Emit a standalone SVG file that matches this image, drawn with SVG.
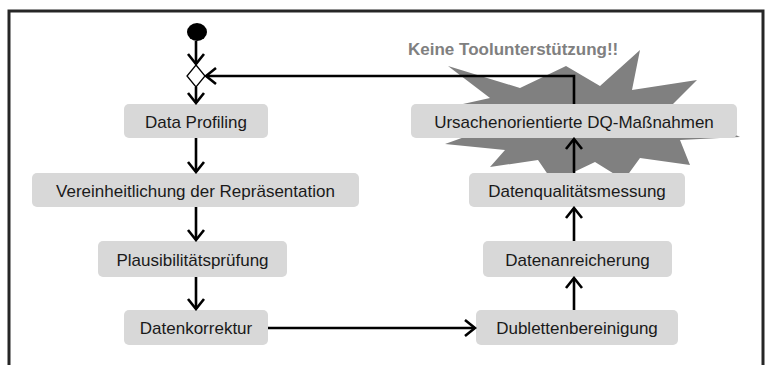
<svg xmlns="http://www.w3.org/2000/svg" width="767" height="365" viewBox="0 0 767 365">
<style>
.box{fill:#d8d8d8;stroke:none}
.lbl{font-family:"Liberation Sans",Arial,sans-serif;font-size:17px;fill:#1a1a1a;text-anchor:middle}
.con{fill:none;stroke:#000;stroke-width:2.6}
</style>
<defs>
<marker id="arr" viewBox="-13 -10 15 20" refX="0" refY="0" markerWidth="15" markerHeight="20" markerUnits="userSpaceOnUse" orient="auto">
<path d="M-10,-8 L0,0 L-10,8" fill="none" stroke="#000" stroke-width="2.6"/>
</marker>
</defs>
<rect width="767" height="365" fill="#fff"/>
<path d="M9,370 V11 H763 V370" fill="none" stroke="#262626" stroke-width="3"/>
<g id="burst">
<polygon fill="#808080" points="448,66 520,88 566,66 600,86 640,50 632,90 697,80 672,105 740,137 680,140 690,165 640,158 624,180 595,162 553,182 538,160 490,167 505,150 445,144 470,135 418,114 490,98"/>
<text x="408" y="55" font-family="Liberation Sans,Arial,sans-serif" font-size="17" font-weight="bold" fill="#808080">Keine Toolunterstützung!!</text>
</g>
<g id="start"><ellipse cx="197" cy="32" rx="10" ry="9" fill="#000"/></g>
<g id="decision"><polygon points="196,65 205,76 196,87 187,76" fill="#fff" stroke="#000" stroke-width="1.3"/></g>
<g id="n1"><rect class="box" x="124" y="104" width="144" height="34" rx="5"/><text class="lbl" x="196" y="128">Data Profiling</text></g>
<g id="n2"><rect class="box" x="32" y="173" width="327" height="34" rx="5"/><text class="lbl" x="195.5" y="197">Vereinheitlichung der Repräsentation</text></g>
<g id="n3"><rect class="box" x="98" y="241" width="189" height="36" rx="5"/><text class="lbl" x="192.5" y="266">Plausibilitätsprüfung</text></g>
<g id="n4"><rect class="box" x="124" y="310" width="144" height="35" rx="5"/><text class="lbl" x="196" y="334">Datenkorrektur</text></g>
<g id="n5"><rect class="box" x="476" y="310" width="202" height="35" rx="5"/><text class="lbl" x="577" y="334">Dublettenbereinigung</text></g>
<g id="n6"><rect class="box" x="483" y="241" width="189" height="36" rx="5"/><text class="lbl" x="577.5" y="266">Datenanreicherung</text></g>
<g id="n7"><rect class="box" x="469" y="173" width="216" height="34" rx="5"/><text class="lbl" x="577" y="197">Datenqualitätsmessung</text></g>
<g id="n8"><rect class="box" x="411" y="104" width="326" height="34" rx="5"/><text class="lbl" x="574" y="128">Ursachenorientierte DQ-Maßnahmen</text></g>
<g id="connectors">
<line class="con" x1="196" y1="41" x2="196" y2="64" marker-end="url(#arr)"/>
<line class="con" x1="196" y1="87" x2="196" y2="103" marker-end="url(#arr)"/>
<line class="con" x1="196" y1="138" x2="196" y2="172" marker-end="url(#arr)"/>
<line class="con" x1="196" y1="207" x2="196" y2="240" marker-end="url(#arr)"/>
<line class="con" x1="196" y1="277" x2="196" y2="309" marker-end="url(#arr)"/>
<line class="con" x1="268" y1="328" x2="475" y2="328" marker-end="url(#arr)"/>
<line class="con" x1="574" y1="310" x2="574" y2="278" marker-end="url(#arr)"/>
<line class="con" x1="574" y1="241" x2="574" y2="208" marker-end="url(#arr)"/>
<line class="con" x1="574" y1="173" x2="574" y2="139" marker-end="url(#arr)"/>
<polyline class="con" points="574,104 574,76 206,76" marker-end="url(#arr)"/>
</g>
</svg>
